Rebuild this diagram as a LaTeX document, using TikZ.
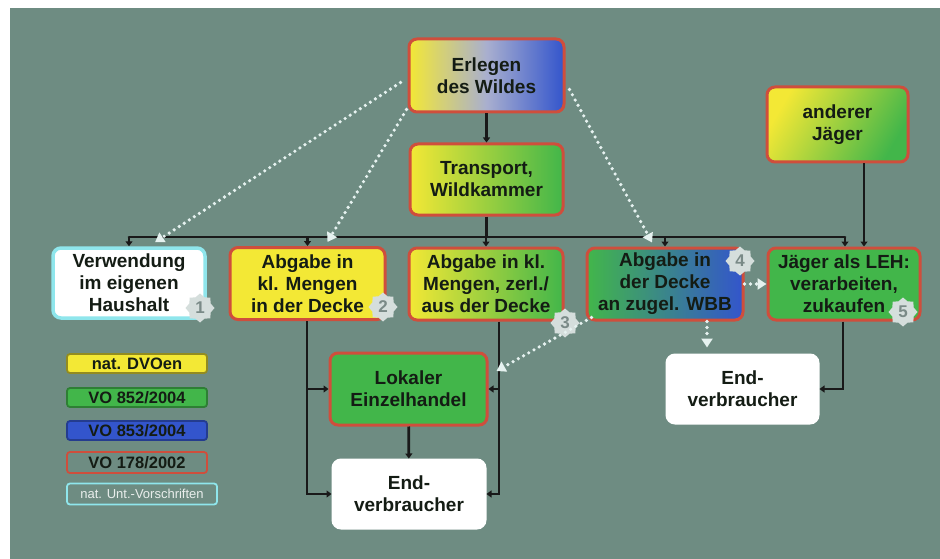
\documentclass[tikz,border=0pt]{standalone}
\usepackage{fontspec}
\setmainfont{Liberation Sans}
\usetikzlibrary{arrows.meta,shapes.geometric,positioning}
\definecolor{bg}{HTML}{6E8C82}
\definecolor{yel}{HTML}{F3E835}
\definecolor{grn}{HTML}{42B64A}
\definecolor{blu}{HTML}{3355CC}
\definecolor{lav}{HTML}{A9AFCF}
\definecolor{redb}{HTML}{CF4E3C}
\definecolor{cyb}{HTML}{8FE6EC}
\definecolor{txt}{HTML}{141C14}
\definecolor{dots}{HTML}{E6F2F0}
\definecolor{badgef}{HTML}{D5DEDC}
\definecolor{badget}{HTML}{7A8A87}
\begin{document}
\begin{tikzpicture}[x=1pt,y=-1pt,
  box/.style={rounded corners=8pt, line width=3pt, draw=redb, align=center,
    font=\bfseries\fontsize{19}{22}\selectfont, text=txt, inner sep=0pt},
  leg/.style={rounded corners=3pt, line width=1.8pt, minimum width=140pt,
    minimum height=19pt, inner sep=0pt, font=\bfseries\fontsize{16.5}{17}\selectfont, text=txt},
  badge/.style={star, star points=8, star point ratio=1.25, minimum size=29pt,
    fill=badgef, inner sep=0pt, text=badget, font=\bfseries\fontsize{17}{17}\selectfont},
  conn/.style={line width=2.8pt, draw=black!90, -{Triangle[length=5pt,width=7pt]}},
  plain/.style={line width=2.8pt, draw=black!90},
  dotl/.style={draw=dots, line width=3.6pt, dash pattern=on 0pt off 6pt, line cap=round,
    -{Triangle[length=9pt,width=11pt,fill=dots]}}
]
\useasboundingbox (0,0) rectangle (940,559);
\fill[white] (0,0) rectangle (940,559);
\fill[bg] (10,8) rectangle (940,559);

% main nodes
\node[box, left color=yel, right color=blu, middle color=lav,
  minimum width=155pt, minimum height=73pt] (erl) at (486.5,75.5) {Erlegen\\des Wildes};
\node[box, left color=yel, right color=grn,
  minimum width=153pt, minimum height=71pt] (trans) at (486.5,179.5) {Transport,\\Wildkammer};
\node[box, left color=yel, right color=grn, shading angle=60,
  minimum width=141pt, minimum height=75pt] (andj) at (837.5,124.5) {anderer\\Jäger};

\node[box, fill=white, draw=cyb, line width=3.5pt,
  minimum width=152pt, minimum height=70pt] (verw) at (129,283) {Verwendung\\im eigenen\\Haushalt};
\node[box, fill=yel,
  minimum width=155pt, minimum height=72pt] (ab2) at (307.5,283.5) {Abgabe in\\kl. Mengen\\in der Decke};
\node[box, left color=yel, right color=grn,
  minimum width=154pt, minimum height=72pt] (ab3) at (486,284) {Abgabe in kl.\\Mengen, zerl./\\aus der Decke};
\node[box, left color=grn, right color=blu,
  minimum width=156pt, minimum height=72pt] (ab4) at (665,284) {Abgabe in\\der Decke\\an zugel. WBB};
\node[box, fill=grn,
  minimum width=152pt, minimum height=72pt] (leh) at (844,284) {Jäger als LEH:\\verarbeiten,\\zukaufen};

\node[box, fill=grn, draw=redb,
  minimum width=157pt, minimum height=72pt] (lok) at (408.5,389) {Lokaler\\Einzelhandel};
\node[box, fill=white, draw=white,
  minimum width=152pt, minimum height=68pt] (end1) at (409,494) {End-\\verbraucher};
\node[box, fill=white, draw=white,
  minimum width=151pt, minimum height=68pt] (end2) at (742.5,389) {End-\\verbraucher};

% badges
\node[badge] (b1) at (200,308) {1};
\node[badge] (b2) at (383,307) {2};
\node[badge] (b3) at (565,323) {3};
\node[badge] (b4) at (740,261) {4};
\node[badge] (b5) at (903,312) {5};

% legend
\node[leg, fill=yel, draw=yel!60!black] (l1) at (137,363.5) {nat. DVOen};
\node[leg, fill=grn, draw=grn!70!black] (l2) at (137,397.5) {VO 852/2004};
\node[leg, fill=blu, draw=blu!70!black] (l3) at (137,430.5) {VO 853/2004};
\node[leg, fill=bg, draw=redb, minimum height=21pt] (l4) at (137,462.5) {VO 178/2002};
\node[leg, fill=bg, draw=cyb, minimum width=150pt, minimum height=21pt, text=white!85!bg,
  font=\fontsize{13}{13}\selectfont] (l5) at (142,494) {nat. Unt.-Vorschriften};

% coordinates
\coordinate (busL) at (129,237);
\coordinate (busR) at (845,237);
\coordinate (jx) at (864,0);
\coordinate (v2) at (307,0);
\coordinate (v3) at (499,0);
\coordinate (v5) at (843,0);

% black connectors
\draw[conn] (erl) -- (trans);
\draw[plain] (trans.south) -- (trans.south |- busL);
\draw[plain, line cap=round] (busL) -- (busR);
\draw[conn] (busL) -- (verw.north);
\draw[conn] (ab2.north |- busL) -- (ab2.north);
\draw[conn] (ab3.north |- busL) -- (ab3.north);
\draw[conn] (ab4.north |- busL) -- (ab4.north);
\draw[conn] (busR) -- (leh.north -| busR);
\draw[conn] (andj.south -| jx) -- (leh.north -| jx);

\draw[conn] (ab2.south -| v2) |- (end1.west);
\draw[conn] (lok.west -| v2) -- (lok.west);
\draw[conn] (ab3.south -| v3) |- (end1.east);
\draw[conn] (lok.east -| v3) -- (lok.east);
\draw[conn] (lok) -- (end1);
\draw[conn] (leh.south -| v5) |- (end2.east);

% dotted connectors
\draw[dotl] ([xshift=-7pt,yshift=-7pt]erl.west) -- ([xshift=26pt,yshift=4pt]verw.north);
\draw[dotl] ([xshift=-1pt,yshift=4pt]erl.south west) -- ([xshift=20pt,yshift=4pt]ab2.north);
\draw[dotl] ([xshift=4pt,yshift=-14pt]erl.east) -- ([xshift=-13pt,yshift=4pt]ab4.north);
\draw[dotl] ([xshift=6pt,yshift=4pt]ab4.south west) -- ([xshift=8pt,yshift=18pt]lok.east);
\draw[dotl] ([xshift=42pt]ab4.south) -- ([xshift=42pt,yshift=6pt]ab4.south |- end2.north);
\draw[dotl] (ab4.east) -- (leh.west);
\end{tikzpicture}
\end{document}
